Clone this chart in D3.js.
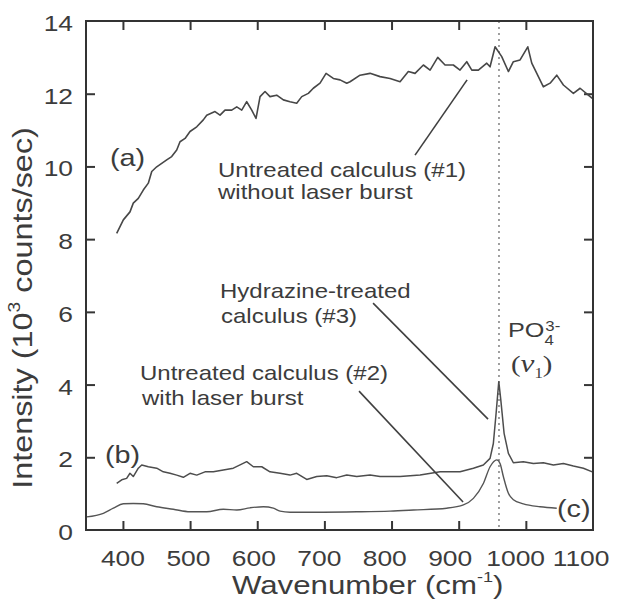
<!DOCTYPE html>
<html>
<head>
<meta charset="utf-8">
<script src="https://cdn.jsdelivr.net/npm/d3@7"></script>
<style>
  body { margin: 0; background: #fff; }
  svg { display: block; background: #fff; }
  text { font-family: "Liberation Sans", Arial, Helvetica, sans-serif; fill: #3c3c3c; }
</style>
</head>
<body>
<svg id="chart" width="626" height="605"></svg>
<script>
var xTicks = [400, 500, 600, 700, 800, 900, 1000, 1100];
var yTicks = [0, 2, 4, 6, 8, 10, 12, 14];
var po4Band = 960;

// (a) untreated calculus #1, without laser burst
var untreatedNoBurst = [
  [390.7, 8.16], [400.6, 8.53], [410.5, 8.75], [415.4, 8.99], [422.9, 9.12], [430.3, 9.35],
  [437.8, 9.54], [442.9, 9.86], [450.3, 9.99], [465.2, 10.18], [472.6, 10.27], [480.1, 10.45],
  [485, 10.68], [492.5, 10.77], [499.9, 10.96], [509.9, 11.09], [519.7, 11.28], [524.8, 11.41],
  [537.1, 11.51], [544.6, 11.41], [552, 11.55], [562, 11.55], [569.5, 11.64], [576.9, 11.55],
  [584.3, 11.78], [591.8, 11.55], [598.2, 11.32], [604.2, 11.92], [611.6, 12.06], [619, 11.92],
  [629, 11.96], [638.9, 11.83], [648.8, 11.78], [658.8, 11.74], [666.3, 11.92], [676.1, 12.01],
  [683.5, 12.15], [693.5, 12.29], [702.5, 12.56], [713.3, 12.42], [723.3, 12.38], [733.3, 12.29],
  [738.2, 12.33], [753.1, 12.51], [768, 12.56], [782.9, 12.47], [797.8, 12.42], [812.7, 12.33],
  [825, 12.61], [835, 12.56], [847.4, 12.79], [857.4, 12.65], [868.8, 13.0], [879.7, 12.79],
  [892, 12.79], [902, 12.65], [912, 12.88], [919.5, 12.65], [929.3, 12.65], [941.8, 12.84],
  [946.7, 12.74], [954.2, 13.29], [964.1, 13.02], [974, 12.61], [981.4, 12.88], [991.4, 12.93],
  [1002.9, 13.29], [1008.8, 12.84], [1016.3, 12.56], [1026.1, 12.19], [1036.1, 12.29], [1046, 12.51],
  [1055.9, 12.24], [1070.8, 12.01], [1080.8, 12.15], [1093.1, 11.96], [1099, 11.87]
];

// (b) hydrazine-treated calculus #3
var hydrazineTreated = [
  [390.7, 1.28], [398.2, 1.38], [405.5, 1.42], [410.5, 1.56], [415.4, 1.47], [422.9, 1.70],
  [428, 1.79], [437.8, 1.74], [450.3, 1.70], [460.1, 1.60], [470.1, 1.56], [480.1, 1.51],
  [489.9, 1.45], [499.9, 1.56], [509.9, 1.51], [522.2, 1.60], [534.6, 1.60], [549.5, 1.65],
  [564.4, 1.70], [574.4, 1.79], [584.3, 1.88], [594.2, 1.74], [606.7, 1.74], [619, 1.60],
  [633.9, 1.56], [648.8, 1.51], [658.8, 1.56], [673.7, 1.39], [688.6, 1.47], [703.5, 1.49],
  [718.4, 1.44], [733.3, 1.51], [748.2, 1.47], [768, 1.51], [782.9, 1.47], [797.8, 1.47],
  [812.7, 1.47], [842.5, 1.51], [872.3, 1.60], [902, 1.60], [921.9, 1.70], [936.7, 1.79],
  [946.7, 1.97], [951.6, 2.38], [955.7, 3.21], [959.7, 4.08], [962.7, 3.58], [967.6, 2.66],
  [974, 2.11], [981.4, 1.85], [996.3, 1.88], [1011.2, 1.83], [1026.1, 1.85], [1041, 1.79],
  [1055.9, 1.83], [1070.8, 1.76], [1085.7, 1.70], [1099, 1.60]
];

// (c) untreated calculus #2, with laser burst
var untreatedBurst = [
  [346, 0.36], [370.8, 0.46], [385.7, 0.60], [400.6, 0.72], [415.4, 0.73], [430.3, 0.72],
  [450.3, 0.64], [475, 0.57], [499.9, 0.50], [524.8, 0.50], [549.5, 0.57], [569.5, 0.55],
  [589.3, 0.61], [609.1, 0.64], [624, 0.60], [634, 0.52], [648.8, 0.49], [698.4, 0.49],
  [748.2, 0.50], [797.8, 0.52], [832.5, 0.55], [882.2, 0.60], [907, 0.69], [921.9, 0.87],
  [936.7, 1.28], [946.7, 1.74], [956.7, 1.93], [961.6, 1.83], [966.5, 1.47], [974, 1.01],
  [981.4, 0.83], [996.3, 0.72], [1021.2, 0.64], [1046, 0.60]
];

var svg = d3.select('#chart');

var x = d3.scaleLinear().domain([345, 1100]).range([86, 593]);
var y = d3.scaleLinear().domain([0, 14]).range([530, 21]);

var ink = '#363636';

function stretched(sel, px, py, rot) {
  return sel.attr('transform', 'translate(' + px + ',' + py + ')' +
    (rot ? ' rotate(' + rot + ')' : '') + ' scale(1.2,1)');
}

// inward ticks on all four sides
var inner = xTicks.slice(0, -1);
var innerY = yTicks.slice(1, -1);

svg.append('g')
  .attr('transform', 'translate(0,' + y(0) + ')')
  .call(d3.axisBottom(x).tickValues(inner).tickSize(-9).tickFormat(''));
svg.append('g')
  .attr('transform', 'translate(0,' + y(14) + ')')
  .call(d3.axisTop(x).tickValues(inner).tickSize(-9).tickFormat(''));
svg.append('g')
  .attr('transform', 'translate(' + x(345) + ',0)')
  .call(d3.axisLeft(y).tickValues(innerY).tickSize(-9).tickFormat(''));
svg.append('g')
  .attr('transform', 'translate(' + x(1100) + ',0)')
  .call(d3.axisRight(y).tickValues(innerY).tickSize(-9).tickFormat(''));

svg.selectAll('.domain').remove();
svg.selectAll('.tick line')
  .attr('stroke', ink)
  .attr('stroke-width', 2);

// tick labels
svg.selectAll('text.xlabel')
  .data(xTicks)
  .enter().append('text')
  .attr('class', 'xlabel')
  .attr('text-anchor', 'middle')
  .style('font-size', '22px')
  .text(function(d) { return d; })
  .each(function(d) { stretched(d3.select(this), x(d) - (d - 400) * 0.017, 565.5); });

svg.selectAll('text.ylabel')
  .data(yTicks)
  .enter().append('text')
  .attr('class', 'ylabel')
  .attr('text-anchor', 'end')
  .style('font-size', '22px')
  .text(function(d) { return d; })
  .each(function(d) { stretched(d3.select(this), 73, y(d) + 10); });

// axis titles
var xTitle = svg.append('text')
  .style('font-size', '26px')
  .text('Wavenumber (cm');
xTitle.append('tspan').style('font-size', '15px').attr('dy', -12).text('-1');
xTitle.append('tspan').attr('dy', 12).text(')');
stretched(xTitle, 232, 594);

var yTitle = svg.append('text')
  .attr('text-anchor', 'middle')
  .style('font-size', '27px')
  .text('Intensity (10');
yTitle.append('tspan').style('font-size', '16px').attr('dy', -12).text('3');
yTitle.append('tspan').attr('dy', 12).text(' counts/sec)');
stretched(yTitle, 32, 308, -90);

// PO4 band marker
svg.append('line')
  .attr('x1', x(po4Band)).attr('x2', x(po4Band))
  .attr('y1', y(14)).attr('y2', y(0))
  .attr('stroke', '#808080')
  .attr('stroke-width', 1.5)
  .attr('stroke-dasharray', '2,4');

// spectra
var line = d3.line()
  .x(function(d) { return x(d[0]); })
  .y(function(d) { return y(d[1]); });

svg.append('path')
  .datum(untreatedNoBurst)
  .attr('d', line)
  .attr('fill', 'none')
  .attr('stroke', '#474747')
  .attr('stroke-width', 1.6)
  .attr('stroke-linejoin', 'round');

svg.append('path')
  .datum(hydrazineTreated)
  .attr('d', line)
  .attr('fill', 'none')
  .attr('stroke', '#4d4d4d')
  .attr('stroke-width', 1.5)
  .attr('stroke-linejoin', 'round');

svg.append('path')
  .datum(untreatedBurst)
  .attr('d', line.curve(d3.curveMonotoneX))
  .attr('fill', 'none')
  .attr('stroke', '#555')
  .attr('stroke-width', 1.4);

// leader lines
var leaders = svg.append('g')
  .attr('stroke', '#404040')
  .attr('stroke-width', 1.6);
leaders.append('line')
  .attr('x1', x(835)).attr('y1', y(10.31))
  .attr('x2', x(912.5)).attr('y2', y(12.38));
leaders.append('line')
  .attr('x1', x(772.5)).attr('y1', y(6.24))
  .attr('x2', x(943.7)).attr('y2', y(3.05));
leaders.append('line')
  .attr('x1', x(751.6)).attr('y1', y(3.82))
  .attr('x2', x(906.5)).attr('y2', y(0.77));

// annotations
function note(px, py, str, size) {
  var t = svg.append('text').style('font-size', (size || 20) + 'px').text(str);
  stretched(t, px, py);
  return t;
}

note(110, 166, '(a)', 24);
note(105, 463, '(b)', 24);
note(557, 517, '(c)', 24);

note(218, 177, 'Untreated calculus (#1)');
note(218, 199, 'without laser burst');
note(220, 298, 'Hydrazine-treated');
note(221, 323, 'calculus (#3)');
note(140, 380, 'Untreated calculus (#2)');
note(142, 405, 'with laser burst');

// PO4 3- with stacked sub/superscript in one text
var po = note(508, 337, 'PO', 21);
po.append('tspan').style('font-size', '14px').attr('dy', 8).text('4');
po.append('tspan').style('font-size', '14px').attr('dx', -7).attr('dy', -14).text('3-');

var nu = svg.append('text')
  .style('font-family', '"Liberation Serif", "Times New Roman", serif')
  .style('font-size', '24px')
  .text('(');
nu.append('tspan').style('font-style', 'italic').style('font-size', '26px').text('\u03bd');
nu.append('tspan').style('font-size', '14px').attr('dy', 6).text('1');
nu.append('tspan').attr('dy', -6).text(')');
stretched(nu, 511, 372);

// frame
svg.append('rect')
  .attr('x', x(345)).attr('y', y(14))
  .attr('width', x(1100) - x(345))
  .attr('height', y(0) - y(14))
  .attr('fill', 'none')
  .attr('stroke', '#333')
  .attr('stroke-width', 2);
</script>
</body>
</html>
